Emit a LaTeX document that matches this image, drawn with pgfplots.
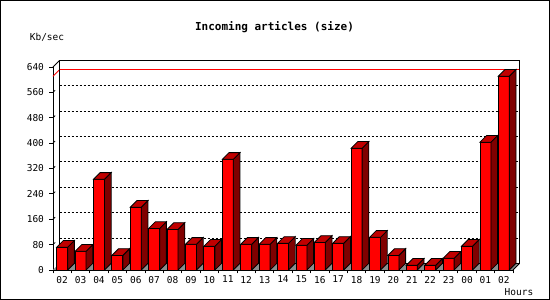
\documentclass[border=0pt]{standalone}
\usepackage{pgfplots}
\pgfplotsset{compat=1.18}
\usepackage{fontspec}
\setmainfont{DejaVu Sans Mono}
\definecolor{barfront}{RGB}{255,0,0}
\definecolor{barside}{RGB}{128,0,0}
\definecolor{bartop}{RGB}{192,0,0}
\definecolor{floorgray}{RGB}{140,140,140}
\def\bw{5.5}
\def\dd{6.7}
\pgfdeclareplotmark{bar3d}{%
  \pgfmathsetmacro\barh{\barval*0.3171}%
  \pgfsetlinewidth{0.8pt}\pgfsetstrokecolor{black}%
  % front
  \pgfpathmoveto{\pgfpoint{-\bw pt}{0pt}}%
  \pgfpathlineto{\pgfpoint{\bw pt}{0pt}}%
  \pgfpathlineto{\pgfpoint{\bw pt}{-\barh pt}}%
  \pgfpathlineto{\pgfpoint{-\bw pt}{-\barh pt}}%
  \pgfpathclose
  \pgfsetfillcolor{barfront}\pgfusepath{fill,stroke}%
  % side
  \pgfpathmoveto{\pgfpoint{\bw pt}{0pt}}%
  \pgfpathlineto{\pgfpoint{\bw pt+\dd pt}{\dd pt}}%
  \pgfpathlineto{\pgfpoint{\bw pt+\dd pt}{\dd pt-\barh pt}}%
  \pgfpathlineto{\pgfpoint{\bw pt}{-\barh pt}}%
  \pgfpathclose
  \pgfsetfillcolor{barside}\pgfusepath{fill,stroke}%
  % top
  \pgfpathmoveto{\pgfpoint{-\bw pt}{0pt}}%
  \pgfpathlineto{\pgfpoint{-\bw pt+\dd pt}{\dd pt}}%
  \pgfpathlineto{\pgfpoint{\bw pt+\dd pt}{\dd pt}}%
  \pgfpathlineto{\pgfpoint{\bw pt}{0pt}}%
  \pgfpathclose
  \pgfsetfillcolor{bartop}\pgfusepath{fill,stroke}%
}
\begin{document}
\begin{tikzpicture}
\useasboundingbox (0pt,0pt) rectangle (550pt,300pt);
\draw[line width=1pt] (0.5pt,0.5pt) rectangle (549.5pt,299.5pt);
\node[font=\bfseries\fontsize{11}{12}\selectfont] at (274.5pt,272.5pt) {Incoming articles (size)};
\node[font=\fontsize{9.5}{10}\selectfont] at (47pt,263pt) {Kb/sec};
\node[font=\fontsize{9.5}{10}\selectfont] at (519pt,8pt) {Hours};
\begin{axis}[
  anchor=origin, at={(62.2pt,30pt)},
  x=18.4pt, y=0.3171pt,
  xmin=-0.5, xmax=24.5, ymin=0, ymax=640,
  clip=false,
  axis x line*=bottom, axis y line*=left,
  axis line style={line width=0.8pt, black},
  xtick={0,...,24},
  xticklabels={02,03,04,05,06,07,08,09,10,11,12,13,14,15,16,17,18,19,20,21,22,23,00,01,02},
  minor xtick={-0.5,0.5,...,24.5},
  ytick={0,80,...,640},
  tick align=outside,
  major tick length=3.5pt,
  minor tick length=3.5pt,
  tick style={black, line width=0.8pt},
  major x tick style={draw=none},
  ticklabel style={font=\fontsize{9.5}{10}\selectfont},
  yticklabel style={xshift=-2pt},
  xticklabel style={yshift=1pt},
  /pgf/number format/assume math mode=true,
]
\fill[floorgray] (axis cs:-0.5,0) -- (axis cs:24.5,0) -- ([shift={(\dd pt,\dd pt)}]axis cs:24.5,0) -- ([shift={(\dd pt,\dd pt)}]axis cs:-0.5,0) -- cycle;
\pgfplotsinvokeforeach{80,160,...,560}{
  \draw[dash pattern=on 2pt off 2pt, line width=0.8pt] ([shift={(\dd pt,\dd pt)}]axis cs:-0.5,#1) -- ([shift={(\dd pt,\dd pt)}]axis cs:24.5,#1);
  \draw[line width=0.8pt] (axis cs:-0.5,#1) -- ([shift={(2.2pt,2.2pt)}]axis cs:-0.5,#1);
}
\draw[red, line width=0.8pt] (axis cs:-0.5,611) -- ([shift={(\dd pt,\dd pt)}]axis cs:-0.5,611) -- ([shift={(\dd pt,\dd pt)}]axis cs:24.5,611);
\draw[line width=0.8pt] ([shift={(\dd pt,\dd pt)}]axis cs:-0.5,0) rectangle ([shift={(\dd pt,\dd pt)}]axis cs:24.5,640);
\draw[line width=0.8pt] (axis cs:-0.5,640) -- ([shift={(\dd pt,\dd pt)}]axis cs:-0.5,640);
\draw[line width=0.8pt] (axis cs:24.5,0) -- ([shift={(\dd pt,\dd pt)}]axis cs:24.5,0);
\addplot[scatter, only marks, mark=bar3d, visualization depends on={\thisrow{y} \as \barval}] table {
x y
0 72
1 59
2 286
3 46
4 198
5 131
6 128
7 81
8 75
9 349
10 81
11 81
12 84
13 78
14 87
15 84
16 384
17 103
18 46
19 15
20 15
21 37
22 75
23 403
24 611
};
\end{axis}
\end{tikzpicture}
\end{document}
